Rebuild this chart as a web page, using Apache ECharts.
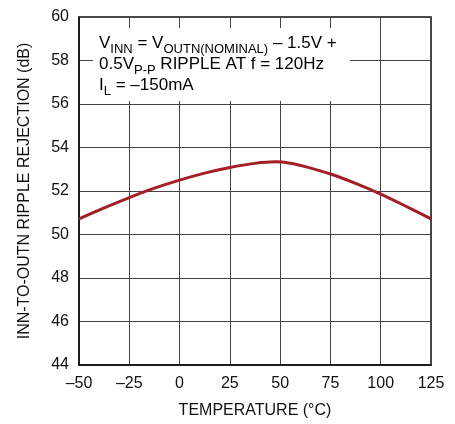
<!DOCTYPE html>
<html><head><meta charset="utf-8">
<script src="https://cdn.jsdelivr.net/npm/echarts@6/dist/echarts.min.js"></script>
<style>html,body{margin:0;padding:0;background:#fff}#c{width:455px;height:424px}</style>
</head><body><div id="c"></div>
<script>
const temps = [-50, -37.5, -25, -12.5, 0, 12.5, 25, 37.5, 47.5, 55, 62.5, 75, 87.5, 100, 112.5, 125];
const rejection = [50.72, 51.22, 51.70, 52.13, 52.50, 52.82, 53.08, 53.27, 53.34, 53.28, 53.12, 52.78, 52.35, 51.86, 51.30, 50.72];
const xTicks = [-50, -25, 0, 25, 50, 75, 100, 125];
const yTicks = [44, 46, 48, 50, 52, 54, 56, 58, 60];
const FONT = '"Liberation Sans", Arial, sans-serif';

const chart = echarts.init(document.getElementById('c'));
chart.setOption({
  animation: false,
  backgroundColor: '#fff',
  grid: { left: 79, right: 24, top: 17, bottom: 51, containLabel: false,
    show: true, borderColor: '#111', borderWidth: 1.5, backgroundColor: 'transparent' },
  xAxis: {
    type: 'value', min: -50, max: 125, interval: 25,
    name: 'TEMPERATURE (°C)', nameLocation: 'middle', nameGap: 38,
    nameTextStyle: { fontFamily: FONT, fontSize: 16, color: '#111' },
    axisLine: { show: true, onZero: false, lineStyle: { color: '#111', width: 1.5 } },
    axisTick: { show: false },
    axisLabel: { fontFamily: FONT, fontSize: 16, color: '#111', margin: 11,
      formatter: v => (v < 0 ? '\u2013' + Math.abs(v) : '' + v) },
    splitLine: { show: true, lineStyle: { color: '#444', width: 1 } }
  },
  yAxis: {
    type: 'value', min: 44, max: 60, interval: 2,
    name: 'INN-TO-OUTN RIPPLE REJECTION (dB)', nameLocation: 'middle', nameGap: 46,
    nameTextStyle: { fontFamily: FONT, fontSize: 16, color: '#111' },
    axisLine: { show: true, onZero: false, lineStyle: { color: '#111', width: 1.5 } },
    axisTick: { show: false },
    axisLabel: { fontFamily: FONT, fontSize: 16, color: '#111', margin: 10 },
    splitLine: { show: true, lineStyle: { color: '#444', width: 1 } }
  },
  series: [{
    type: 'line', showSymbol: false, smooth: 0.35,
    data: temps.map((t, i) => [t, rejection[i]]),
    lineStyle: { color: '#a31f25', width: 3 }
  }],
  graphic: [
    { type: 'rect', shape: { x: 93, y: 28, width: 257, height: 73 }, style: { fill: '#fff' }, z: 10 },
    {
      type: 'text', left: 99, top: 35, z: 11,
      style: {
        text: '{m|V}{s|INN}{m| = V}{s|OUTN(NOMINAL)}{m| \u2013 1.5V +}\n{m|0.5V}{s|P-P}{m| RIPPLE AT f = 120Hz}\n{m|I}{s|L}{m| = \u2013150mA}',
        rich: {
          m: { fontFamily: FONT, fontSize: 17, lineHeight: 21, color: '#111', verticalAlign: 'top' },
          s: { fontFamily: FONT, fontSize: 13, lineHeight: 16, color: '#111', verticalAlign: 'bottom' }
        }
      }
    }
  ]
});
</script></body></html>
